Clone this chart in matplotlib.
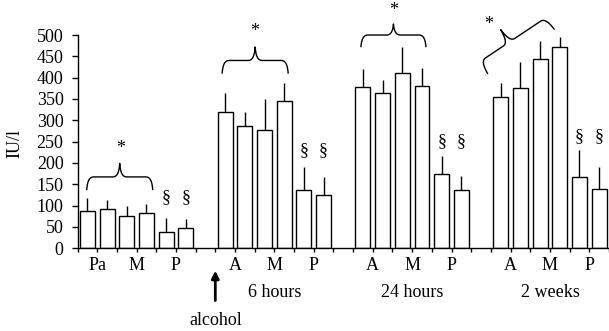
import matplotlib
matplotlib.use('Agg')
import matplotlib.pyplot as plt
from matplotlib.transforms import IdentityTransform
import numpy as np

plt.rcParams['font.family'] = ['Liberation Serif', 'DejaVu Serif']
plt.rcParams['font.size'] = 13

# group means and upper error (IU/l)
groups = ['baseline', '6 hours', '24 hours', '2 weeks']
group_labels = ['', '6 hours', '24 hours', '2 weeks']
pair_labels = [['Pa', 'M', 'P'], ['A', 'M', 'P'], ['A', 'M', 'P'], ['A', 'M', 'P']]
means = [
    [87, 91, 76, 82, 39, 47],
    [320, 287, 277, 345, 136, 126],
    [377, 363, 410, 380, 175, 137],
    [355, 375, 443, 472, 168, 139],
]
errs = [
    [32, 22, 22, 21, 32, 21],
    [43, 32, 73, 43, 54, 42],
    [43, 31, 62, 42, 42, 33],
    [33, 62, 43, 24, 62, 52],
]
sect_y = [118, 230, 250, 262]      # height of the § marks
star_y = [233, 509, 558, 525]      # height of the * marks
brace_y = [138, 411, 473, 410]     # foot of each brace

fig = plt.figure(figsize=(6.09, 3.31), dpi=100)
ax = fig.add_axes([77.5 / 609, 1 - 248.3 / 331, 1 - 77.5 / 609, 213.3 / 331])

n = len(means[0])
starts = [g * (n + 1) for g in range(len(groups))]
for g, s in enumerate(starts):
    x = np.arange(n) + s
    ax.bar(x, means[g], width=0.76, color='white', edgecolor='black', linewidth=1.0, zorder=2)
    ax.errorbar(x, means[g], yerr=[np.zeros(n), errs[g]], fmt='none', ecolor='black',
                elinewidth=1.0, capsize=0, zorder=1)
    for k in (4, 5):
        ax.text(s + k, sect_y[g], '§', ha='center', va='center', fontsize=13)

ax.set_xlim(-0.5, starts[-1] + n - 0.5)
ax.set_ylim(0, 500)
ax.set_yticks(np.arange(0, 501, 50))
ticks = np.arange(-0.5, starts[-1] + n, 1.0)
labels = [''] * len(ticks)
for g, s in enumerate(starts):
    for j, lab in enumerate(pair_labels[g]):
        labels[int(s + 2 * j + 1)] = lab
ax.set_xticks(ticks)
ax.set_xticklabels(labels)
ax.tick_params(axis='x', direction='out', length=3, width=1, pad=3.5)
ax.tick_params(axis='y', direction='out', length=4, width=1, pad=6)
for sp in ['top', 'right']:
    ax.spines[sp].set_visible(False)
for sp in ['left', 'bottom']:
    ax.spines[sp].set_linewidth(1.0)

tr = ax.get_xaxis_transform()
for g, s in enumerate(starts):
    if group_labels[g]:
        ax.text(s + 2.5, -0.208, group_labels[g], transform=tr, ha='center', va='center')

ax.annotate('', xy=(starts[1] - 0.5, -0.105), xytext=(starts[1] - 0.5, -0.245), xycoords=tr,
            textcoords=tr, arrowprops=dict(arrowstyle='-|>', lw=2, color='black', mutation_scale=11,
                                           shrinkA=0, shrinkB=0), annotation_clip=False)
ax.text(starts[1] - 0.5, -0.338, 'alcohol', transform=tr, ha='center', va='center')

fig.text(15 / 609, 1 - 143 / 331, 'IU/l', rotation=90, ha='center', va='center', fontsize=13)


def bez(p0, p1, p2, p3, m=20):
    t = np.linspace(0, 1, m)[:, None]
    return ((1 - t) ** 3) * p0 + 3 * ((1 - t) ** 2) * t * p1 + 3 * (1 - t) * t ** 2 * p2 + t ** 3 * p3


def half(L, h1, h2, r):
    a = bez(np.array([0, 0]), np.array([0.1 * r, 0.7 * h1]), np.array([0.4 * r, h1]), np.array([r, h1]))
    b = bez(np.array([L - r, h1]), np.array([L - 0.4 * r, h1]), np.array([L - 0.1 * r, h1 + 0.3 * h2]),
            np.array([L, h1 + h2]))
    return np.vstack([a, b])


def brace(x0, y0, x1, y1, frac=0.5, h1=12.5, h2=13.5, r=7):
    p0 = ax.transData.transform((x0, y0))
    p1 = ax.transData.transform((x1, y1))
    L = np.hypot(*(p1 - p0))
    u = (p1 - p0) / L
    nv = np.array([-u[1], u[0]])
    m = frac * L
    left = half(m, h1, h2, r)
    right = half(L - m, h1, h2, r)[::-1]
    right[:, 0] = L - right[:, 0]
    pts = np.vstack([left, right])
    xy = p0 + pts[:, :1] * u + pts[:, 1:] * nv
    ax.plot(xy[:, 0], xy[:, 1], color='black', lw=1.0, transform=IdentityTransform(), clip_on=False)


brace(-0.03, brace_y[0], 3.32, brace_y[0])
brace(6.85, brace_y[1], 10.2, brace_y[1])
brace(13.9, brace_y[2], 17.2, brace_y[2], h1=11.5, h2=11)
brace(20.33, brace_y[3], 23.71, 514, frac=0.44, h1=14, h2=15)

star_x = [1.67, 8.48, 15.54, 20.4]
for g in range(len(groups)):
    ax.text(star_x[g], star_y[g], '*', ha='center', va='center', fontsize=13, clip_on=False)

fig.savefig('out.png', dpi=100)
